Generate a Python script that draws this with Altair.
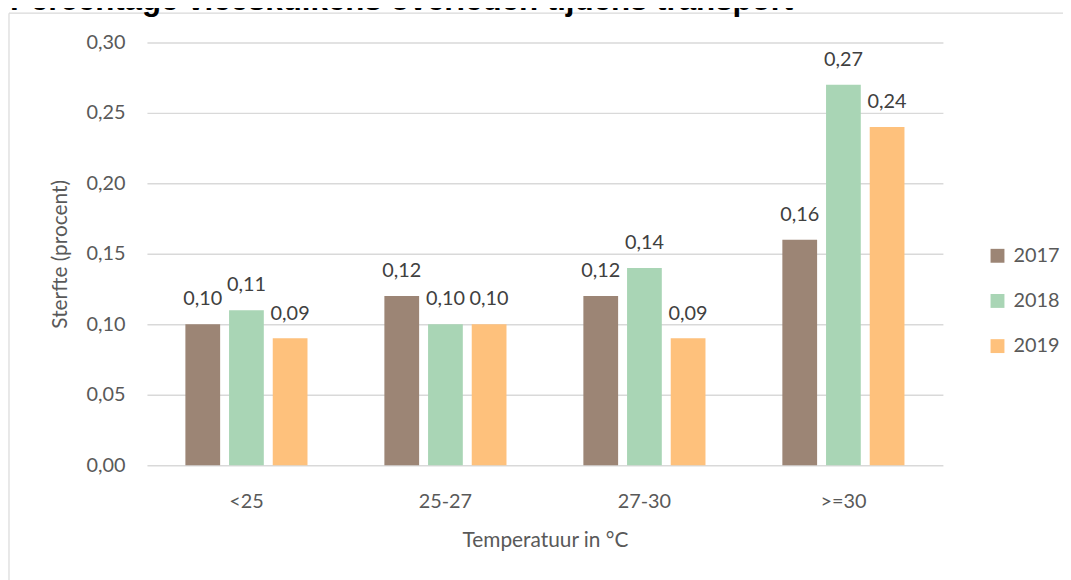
import altair as alt
import pandas as pd

categories = ["<25", "25-27", "27-30", ">=30"]
years = ["2017", "2018", "2019"]
v2017 = [0.10, 0.12, 0.12, 0.16]
v2018 = [0.11, 0.10, 0.14, 0.27]
v2019 = [0.09, 0.10, 0.09, 0.24]
colors = ["#9c8575", "#a9d5b5", "#fec17c"]
y_ticks = [0.0, 0.05, 0.10, 0.15, 0.20, 0.25, 0.30]
title_text = "Percentage vleeskuikens overleden tijdens transport"

rows = []
for yr, vals in zip(years, [v2017, v2018, v2019]):
    for c, v in zip(categories, vals):
        rows.append({"cat": c, "jaar": yr, "waarde": v,
                     "label": f"{v:.2f}".replace(".", ",")})
df = pd.DataFrame(rows)
dummy = pd.DataFrame({"a": [0]})

FONT = "Lato"
GRAY = "#595959"

x_enc = alt.X("cat:N", sort=categories, title="Temperatuur in °C",
              scale=alt.Scale(paddingInner=0, paddingOuter=0),
              axis=alt.Axis(labelAngle=0, ticks=False, domain=False,
                            labelPadding=27, titlePadding=18))
xo_enc = alt.XOffset("jaar:N", sort=years,
                     scale=alt.Scale(paddingInner=0.2045, paddingOuter=0.88))
y_enc = alt.Y("waarde:Q", title="Sterfte (procent)",
              scale=alt.Scale(domain=[0, 0.30], nice=False),
              axis=alt.Axis(values=y_ticks, ticks=False, domain=False,
                            labelPadding=22, titlePadding=16,
                            labelExpr="replace(format(datum.value, '.2f'), '.', ',')"))

bars = alt.Chart(df).mark_bar().encode(
    x=x_enc, xOffset=xo_enc, y=y_enc,
    color=alt.Color("jaar:N", sort=years,
                    scale=alt.Scale(domain=years, range=colors),
                    legend=alt.Legend(title=None, orient="none", legendX=847, legendY=205,
                                      symbolType="square", symbolSize=196,
                                      symbolStrokeWidth=0, labelFontSize=20,
                                      labelFont=FONT, labelColor=GRAY,
                                      labelOffset=6, rowPadding=25.5)),
)

labels = alt.Chart(df).mark_text(baseline="alphabetic", dy=-19, fontSize=20,
                                 font=FONT, color="#404040").encode(
    x=alt.X("cat:N", sort=categories), xOffset=alt.XOffset("jaar:N", sort=years),
    y="waarde:Q", text="label:N")

frame_left = alt.Chart(dummy).mark_rule(color="#d9d9d9", strokeWidth=1.2).encode(
    x=alt.value(-139), y=alt.value(-29.5), y2=alt.value(700))
frame_top = alt.Chart(dummy).mark_rule(color="#d9d9d9", strokeWidth=1.2).encode(
    x=alt.value(-139), x2=alt.value(1100), y=alt.value(-29.5))

title = alt.Chart(dummy).mark_text(text=title_text, align="left", baseline="alphabetic",
                                   font="Liberation Sans", fontWeight="bold",
                                   fontSize=31.5, color="black").encode(
    x=alt.value(-138), y=alt.value(-32.5))

chart = alt.layer(frame_left, frame_top, title, bars, labels).properties(
    width=802, height=426,
    padding={"left": 140, "top": 32.5, "right": 121, "bottom": 113.5},
    autosize=alt.AutoSizeParams(type="none"),
).configure_view(stroke=None).configure_axis(
    labelFont=FONT, titleFont=FONT, labelFontSize=20, titleFontSize=21,
    labelColor=GRAY, titleColor=GRAY, titleFontWeight="normal",
    gridColor="#d9d9d9", gridWidth=1.5,
).configure_axisX(grid=False)

chart.save("out.html", embed_options={"renderer": "svg", "actions": False})
